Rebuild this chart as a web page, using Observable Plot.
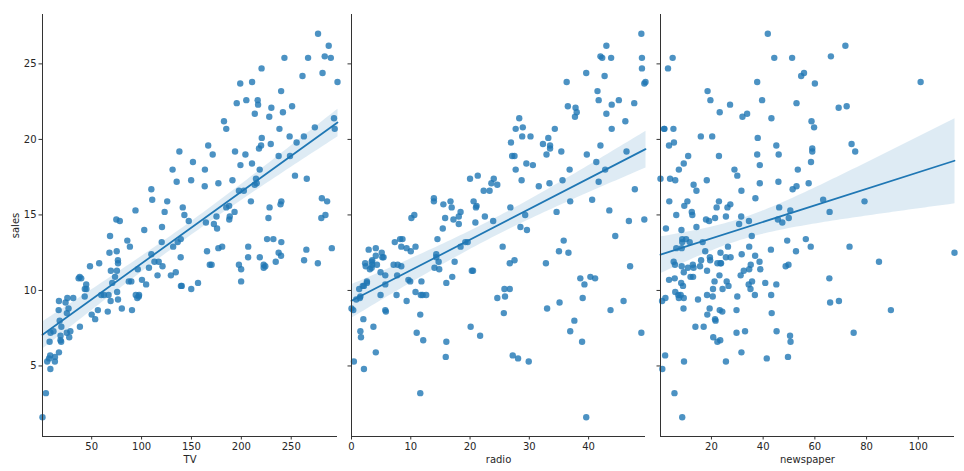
<!DOCTYPE html>
<html>
<head>
<meta charset="utf-8">
<script src="https://cdn.jsdelivr.net/npm/d3@7"></script>
<script src="https://cdn.jsdelivr.net/npm/@observablehq/plot@0.6"></script>
<style>
  html, body { margin: 0; padding: 0; background: #fff; }
  #chart { position: relative; width: 964px; height: 471px; overflow: hidden; }
  #chart > svg { position: absolute; top: 0; }
</style>
</head>
<body>
<div id="chart"></div>
<script>
const tv = [230.1,44.5,17.2,151.5,180.8,8.7,57.5,120.2,8.6,199.8,
66.1,214.7,23.8,97.5,204.1,195.4,67.8,281.4,69.2,147.3,
218.4,237.4,13.2,228.3,62.3,262.9,142.9,240.1,248.8,70.6,
292.9,112.9,97.2,265.6,95.7,290.7,266.9,74.7,43.1,228,
202.5,177,293.6,206.9,25.1,175.1,89.7,239.9,227.2,66.9,
199.8,100.4,216.4,182.6,262.7,198.9,7.3,136.2,210.8,210.7,
53.5,261.3,239.3,102.7,131.1,69,31.5,139.3,237.4,216.8,
199.1,109.8,26.8,129.4,213.4,16.9,27.5,120.5,5.4,116,
76.4,239.8,75.3,68.4,213.5,193.2,76.3,110.7,88.3,109.8,
134.3,28.6,217.7,250.9,107.4,163.3,197.6,184.9,289.7,135.2,
222.4,296.4,280.2,187.9,238.2,137.9,25,90.4,13.1,255.4,
225.8,241.7,175.7,209.6,78.2,75.1,139.2,76.4,125.7,19.4,
141.3,18.8,224,123.1,229.5,87.2,7.8,80.2,220.3,59.6,
0.7,265.2,8.4,219.8,36.9,48.3,25.6,273.7,43,184.9,
73.4,193.7,220.5,104.6,96.2,140.3,240.1,243.2,38,44.7,
280.7,121,197.6,171.3,187.8,4.1,93.9,149.8,11.7,131.7,
172.5,85.7,188.4,163.5,117.2,234.5,17.9,206.8,215.4,284.3,
50,164.5,19.6,168.4,222.4,276.9,248.4,170.2,276.7,165.6,
156.6,218.5,56.2,287.6,253.8,205,139.5,191.1,286,18.7,
39.5,75.5,17.2,166.8,149.7,38.2,94.2,177,283.6,232.1];

const radio = [37.8,39.3,45.9,41.3,10.8,48.9,32.8,19.6,2.1,2.6,
5.8,24,35.1,7.6,32.9,47.7,36.6,39.6,20.5,23.9,
27.7,5.1,15.9,16.9,12.6,3.5,29.3,16.7,27.1,16,
28.3,17.4,1.5,20,1.4,4.1,43.8,49.4,26.7,37.7,
22.3,33.4,27.7,8.4,25.7,22.5,9.9,41.5,15.8,11.7,
3.1,9.6,41.7,46.2,28.8,49.4,28.1,19.2,49.6,29.5,
2,42.7,15.5,29.6,42.8,9.3,24.6,14.5,27.5,43.9,
30.6,14.3,33,5.7,24.6,43.7,1.6,28.5,29.9,7.7,
26.7,4.1,20.3,44.5,43,18.4,27.5,40.6,25.5,47.8,
4.9,1.5,33.5,36.5,14,31.6,3.5,21,42.3,41.7,
4.3,36.3,10.1,17.2,34.3,46.4,11,0.3,0.4,26.9,
8.2,38,15.4,20.6,46.8,35,14.3,0.8,36.9,16,
26.8,21.7,2.4,34.6,32.3,11.8,38.9,0,49,12,
39.6,2.9,27.2,33.5,38.6,47,39,28.9,25.9,43.9,
17,35.4,33.2,5.7,14.8,1.9,7.3,49,40.3,25.8,
13.9,8.4,23.3,39.7,21.1,11.6,43.5,1.3,36.9,18.4,
18.1,35.8,18.1,36.8,14.7,3.4,37.6,5.2,23.6,10.6,
11.6,20.9,20.1,7.1,3.4,48.9,30.2,7.8,2.3,10,
2.6,5.4,5.7,43,21.3,45.1,2.1,28.7,13.9,12.1,
41.1,10.8,4.1,42,35.6,3.7,4.9,9.3,42,8.6];

const newspaper = [69.2,45.1,69.3,58.5,58.4,75,23.5,11.6,1,21.2,
24.2,4,65.9,7.2,46,52.9,114,55.8,18.3,19.1,
53.4,23.5,49.6,26.2,18.3,19.5,12.6,22.9,22.9,40.8,
43.2,38.6,30,0.3,7.4,8.5,5,45.7,35.1,32,
31.6,38.7,1.8,26.4,43.3,31.5,35.7,18.5,49.9,36.8,
34.6,3.6,39.6,58.7,15.9,60,41.4,16.6,37.7,9.3,
21.4,54.7,27.3,8.4,28.9,0.9,2.2,10.2,11,27.2,
38.7,31.7,19.3,31.3,13.1,89.4,20.7,14.2,9.4,23.1,
22.3,36.9,32.5,35.6,33.8,65.7,16,63.2,73.4,51.4,
9.3,33,59,72.3,10.9,52.9,5.9,22,51.2,45.9,
49.8,100.9,21.4,17.9,5.3,59,29.7,23.2,25.6,5.5,
56.5,23.2,2.4,10.7,34.5,52.7,25.6,14.8,79.2,22.3,
46.2,50.4,15.6,12.4,74.2,25.9,50.6,9.2,3.2,43.1,
8.7,43,2.1,45.1,65.6,8.5,9.3,59.7,20.5,1.7,
12.9,75.6,37.9,34.4,38.9,9,8.7,44.3,11.9,20.6,
37,48.7,14.2,37.7,9.5,5.7,50.5,24.3,45.2,34.6,
30.7,49.3,25.6,7.4,5.4,84.8,21.6,19.4,57.6,6.4,
18.4,47.4,17,12.8,13.1,41.8,20.3,35.2,23.7,17.6,
8.3,27.4,29.7,71.8,30,19.6,26.6,18.2,3.7,23.4,
5.8,6,31.6,3.6,6,13.8,8.1,6.4,66.2,8.7];

const sales = [22.1,10.4,9.3,18.5,12.9,7.2,11.8,13.2,4.8,10.6,
8.6,17.4,9.2,9.7,19,22.4,12.5,24.4,11.3,14.6,
18,12.5,5.6,15.5,9.7,12,15,15.9,18.9,10.5,
21.4,11.9,9.6,17.4,9.5,12.8,25.4,14.7,10.1,21.5,
16.6,17.1,20.7,12.9,8.5,14.9,10.6,23.2,14.8,9.7,
11.4,10.7,22.6,21.2,20.2,23.7,5.5,13.2,23.8,18.4,
8.1,24.2,15.7,14,18,9.3,9.5,13.4,18.9,22.3,
18.3,12.4,8.8,11,17,8.7,6.9,14.2,5.3,11,
11.8,12.3,11.3,13.6,21.7,15.2,12,16,12.9,16.7,
11.2,7.3,19.4,22.2,11.5,16.9,11.7,15.5,25.4,17.2,
11.7,23.8,14.8,14.7,20.7,19.2,7.2,8.7,5.3,19.8,
13.4,21.8,14.1,15.9,14.6,12.6,12.2,9.4,15.9,6.6,
15.5,7,11.6,15.2,19.7,10.6,6.6,8.8,24.7,9.7,
1.6,12.7,5.7,19.6,10.8,11.6,9.5,20.8,9.6,20.7,
10.9,19.2,20.1,10.4,11.4,10.3,13.2,25.4,10.9,10.1,
16.1,11.6,16.6,19,15.6,3.2,15.3,10.1,7.3,12.9,
14.4,13.3,14.9,18,11.9,11.9,8,12.2,17.1,15,
8.4,14.5,7.6,11.7,11.5,27,20.2,11.7,11.8,12.6,
10.5,12.2,8.7,26.2,17.6,22.6,10.3,17.3,15.9,6.7,
10.8,9.9,5.9,19.6,17.3,7.6,9.7,12.8,25.5,13.4];

const yTicks = [5, 10, 15, 20, 25];
const tvTicks = [50, 100, 150, 200, 250];
const radioTicks = [0, 10, 20, 30, 40];
const newspaperTicks = [20, 40, 60, 80, 100];

const rows = sales.map((s, i) => ({TV: tv[i], radio: radio[i], newspaper: newspaper[i], sales: s}));

const C0 = "#1f77b4";
const [sMin, sMax] = d3.extent(sales);
const sPad = (sMax - sMin) * 0.05;
const yDomain = [sMin - sPad, sMax + sPad];

const panels = [
  {key: "TV", ticks: tvTicks, left: 0, width: 340, ml: 42, mr: 3, showY: true},
  {key: "radio", ticks: radioTicks, left: 340, width: 310, ml: 11, mr: 5, showY: false},
  {key: "newspaper", ticks: newspaperTicks, left: 650, width: 314, ml: 10, mr: 10, showY: false}
];

const chart = document.getElementById("chart");
for (const p of panels) {
  const xDomain = d3.extent(rows, d => d[p.key]);
  const svg = Plot.plot({
    width: p.width,
    height: 471,
    marginLeft: p.ml,
    marginRight: p.mr,
    marginTop: 14,
    marginBottom: 35,
    style: {fontFamily: "DejaVu Sans, sans-serif", fontSize: "10px", color: "#262626", background: "transparent", overflow: "visible"},
    x: {domain: xDomain},
    y: {domain: yDomain},
    marks: [
      Plot.axisX({ticks: p.ticks, tickSize: 3.5, tickPadding: 2.5, label: p.key, labelAnchor: "center", labelArrow: "none", labelOffset: 26, stroke: "#333"}),
      Plot.axisY({ticks: yTicks, tickSize: 3.5, tickPadding: 2.5, tickFormat: p.showY ? (d => d) : (() => ""), label: p.showY ? "sales" : null, labelAnchor: "center", labelArrow: "none", labelOffset: 31, stroke: "#333"}),
      Plot.dot(rows, {x: p.key, y: "sales", r: 3.2, fill: C0, fillOpacity: 0.8, stroke: "none"}),
      Plot.linearRegressionY(rows, {x: p.key, y: "sales", ci: 0.95, stroke: C0, strokeWidth: 1.75, fill: C0, fillOpacity: 0.15}),
      Plot.ruleX([xDomain[0]], {stroke: "#333", strokeWidth: 1}),
      Plot.ruleY([yDomain[0]], {stroke: "#333", strokeWidth: 1})
    ]
  });
  svg.style.left = p.left + "px";
  chart.appendChild(svg);
}
</script>
</body>
</html>
